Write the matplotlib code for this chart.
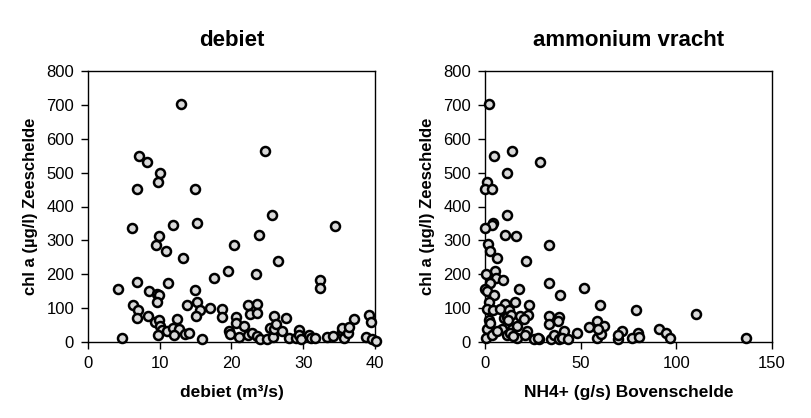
import matplotlib
matplotlib.use("Agg")
import matplotlib.pyplot as plt

plt.rcParams['font.family'] = ['Liberation Sans', 'DejaVu Sans']

# Left panel: debiet (m3/s) vs chl a
debiet_x = [12.93, 24.65, 7.07, 8.19, 10.09, 9.81, 6.79, 14.98, 25.58, 11.81,
            6.14, 34.37, 15.26, 9.95, 23.81, 9.53, 20.28, 10.84, 26.42, 13.21,
            19.49, 23.4, 17.63, 6.79, 11.12, 32.28, 32.28, 4.23, 8.56, 14.88,
            9.58, 9.91, 9.67, 6.33, 15.16, 13.86, 22.33, 23.53, 6.93, 15.63,
            17.07, 18.74, 6.79, 8.33, 12.47, 15.12, 18.65, 20.6, 22.6, 23.49,
            25.95, 27.53, 37.07, 39.12, 39.4, 9.3, 9.86, 10.0, 10.33, 11.02,
            11.9, 12.74, 12.05, 13.53, 14.05, 9.72, 4.79, 15.95, 19.72, 19.81,
            20.56, 21.81, 21.02, 22.28, 22.88, 23.53, 23.95, 24.93, 25.35, 25.81,
            25.9, 26.19, 27.02, 28.05, 28.98, 29.44, 29.4, 29.72, 30.79, 31.07,
            31.67, 33.35, 34.19, 35.4, 35.35, 35.72, 36.23, 36.37, 38.7, 39.58,
            40.1]
debiet_y = [703, 565, 549, 532, 500, 472, 453, 453, 376, 345,
            338, 343, 351, 314, 317, 287, 287, 270, 240, 249,
            211, 202, 190, 176, 175, 184, 160, 157, 152, 154,
            141, 139, 117, 110, 117, 109, 110, 113, 95, 93,
            101, 97, 72, 78, 69, 77, 75, 75, 83, 86,
            77, 72, 69, 81, 59, 60, 64, 48, 35, 33,
            40, 39, 22, 24, 28, 21, 13, 10, 31, 24,
            56, 48, 16, 21, 28, 18, 8, 8, 40, 16,
            38, 53, 32, 11, 12, 35, 20, 8, 22, 13,
            12, 14, 18, 33, 40, 12, 28, 44, 14, 10,
            4]

# Right panel: NH4+ (g/s) Bovenschelde vs chl a
nh4_x = [1.9, 14.3, 4.9, 28.6, 11.5, 1.2, 0.0, 3.5, 11.5, 4.0,
         3.5, 0.0, 10.6, 16.0, 1.7, 33.3, 2.4, 6.1, 21.3, 5.4,
         0.7, 5.6, 9.6, 2.4, 33.3, 0.0, 0.9, 17.6, 51.6, 4.9,
         39.4, 1.9, 10.6, 15.5, 23.2, 60.3, 1.2, 4.2, 7.7, 12.5,
         78.7, 110.5, 9.9, 11.3, 13.8, 18.1, 22.6, 20.6, 1.9, 33.3,
         38.9, 33.6, 38.2, 58.7, 54.2, 62.0, 1.2, 8.9, 14.3, 16.9,
         21.8, 41.1, 47.9, 71.6, 91.1, 94.6, 79.8, 0.5, 3.5, 11.5,
         16.7, 21.1, 25.8, 28.2, 34.3, 35.9, 38.5, 40.1, 43.4, 58.4,
         60.5, 69.3, 69.3, 76.8, 80.5, 96.5, 136.6, 13.2, 14.8, 6.3,
         2.8, 12.0, 58.9, 27.9]
nh4_y = [703, 565, 549, 532, 500, 473, 453, 453, 376, 351,
         344, 338, 316, 314, 288, 287, 270, 249, 240, 211,
         202, 190, 183, 175, 175, 157, 152, 155, 160, 139,
         139, 117, 112, 117, 109, 110, 96, 93, 98, 93,
         94, 83, 70, 73, 79, 77, 79, 68, 65, 78,
         75, 53, 62, 61, 45, 48, 37, 38, 39, 48,
         33, 33, 28, 33, 37, 28, 28, 13, 22, 20,
         12, 20, 8, 9, 10, 22, 10, 12, 10, 12,
         24, 10, 22, 12, 16, 12, 13, 26, 18, 33,
         55, 65, 37, 11]

yticks = [0, 100, 200, 300, 400, 500, 600, 700, 800]
left_xticks = [0, 10, 20, 30, 40]
right_xticks = [0, 50, 100, 150]

fig = plt.figure(figsize=(8.12, 4.18), dpi=100)
W, H = 812, 418
ax1 = fig.add_axes([88 / W, (H - 342) / H, 287 / W, 271 / H])
ax2 = fig.add_axes([485 / W, (H - 342) / H, 287 / W, 271 / H])

panels = [
    (ax1, debiet_x, debiet_y, left_xticks, 'debiet', 'debiet (m³/s)'),
    (ax2, nh4_x, nh4_y, right_xticks, 'ammonium vracht', 'NH4+ (g/s) Bovenschelde'),
]
for ax, xs, ys, xt, title, xlabel in panels:
    ax.scatter(xs, ys, s=42, facecolor='#d9d9d9', edgecolor='black',
               linewidth=1.8, zorder=3, clip_on=False)
    ax.set_xlim(xt[0], xt[-1])
    ax.set_ylim(0, 800)
    ax.set_xticks(xt)
    ax.set_yticks(yticks)
    ax.tick_params(direction='out', length=5, width=1, labelsize=12, pad=5,
                   colors='black')
    for sp in ax.spines.values():
        sp.set_linewidth(1)
        sp.set_color('black')
    ax.set_title(title, fontsize=16, fontweight='bold', pad=18)
    ax.set_xlabel(xlabel, fontsize=12.5, fontweight='bold', labelpad=10)
    ax.set_ylabel('chl a (µg/l) Zeeschelde', fontsize=12, fontweight='bold',
                  labelpad=6)

fig.savefig('out.png', dpi=100, facecolor='white')
